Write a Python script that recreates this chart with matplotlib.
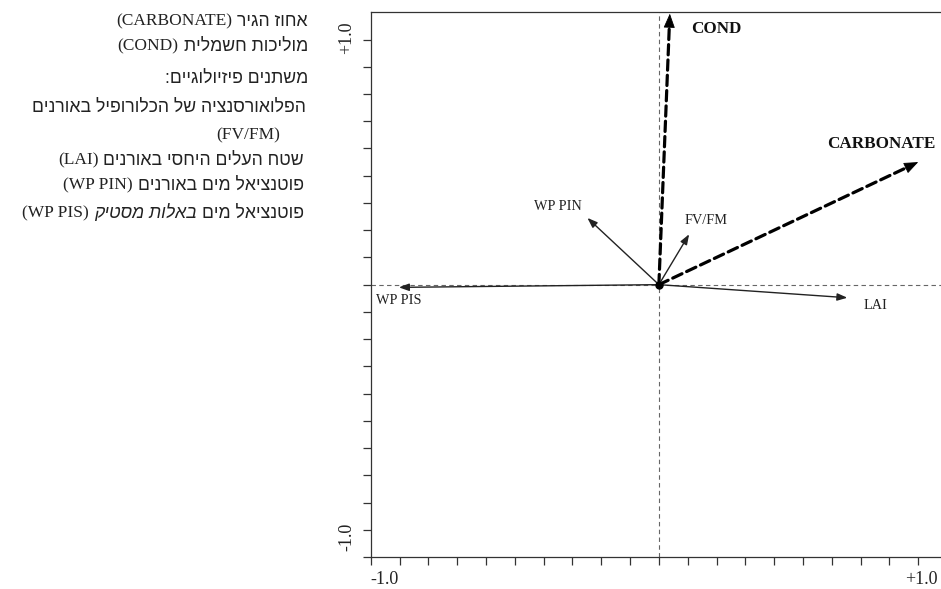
import matplotlib
matplotlib.use("Agg")  # Non-interactive backend
import matplotlib.pyplot as plt
from matplotlib.transforms import IdentityTransform

# Arrow tips in tick units (one tick mark = one unit, origin at the dashed cross)
var_names = ["COND", "CARBONATE", "FV/FM", "LAI", "WP PIN", "WP PIS"]
tip_x = [0.38, 9.0, 1.05, 6.54, -2.48, -9.02]
tip_y = [9.95, 4.5, 1.85, -0.48, 2.45, -0.10]
is_env = [True, True, False, False, False, False]

# label anchor points (centre of each label), same units
label_x = [1.98, 7.71, 1.63, 7.52, -3.52, -9.03]
label_y = [9.37, 5.17, 2.37, -0.78, 2.88, -0.60]

tick_pos = list(range(-10, 10))
end_labels = ["-1.0", "+1.0"]
x_label_pos = [-10, 9.12]
y_label_pos = [-9.27, 9.05]

# Legend lines, logical (right-to-left) order of segments
legend_lines = [
    [("אחוז הגיר", "he"), ("(CARBONATE)", "lat")],
    [("מוליכות חשמלית", "he"), ("(COND)", "lat")],
    [("משתנים פיזיולוגיים:", "he")],
    [("הפלואורסנציה של הכלורופיל באורנים", "he")],
    [("(FV/FM)", "lat")],
    [("שטח העלים היחסי באורנים", "he"), ("(LAI)", "lat")],
    [("פוטנציאל מים באורנים", "he"), ("(WP PIN)", "lat")],
    [("פוטנציאל מים", "he"), ("באלות מסטיק", "he_it"), ("(WP PIS)", "lat")],
]
legend_right = [308, 308, 308, 306, 280, 304, 304, 304]
legend_y = [21.7, 46.7, 78, 107, 135, 160, 185, 213]

W, H = 941, 589
fig = plt.figure(figsize=(W / 100, H / 100), dpi=100)
ax = fig.add_axes([370.7 / W, 32 / H, (W - 370.7) / W, 544.7 / H])
ax.set_xlim(-10, 9.79)
ax.set_ylim(-10, 10)

serif = ["Liberation Serif", "DejaVu Serif"]

# reference cross
ax.axvline(0, color="#666666", lw=0.8, ls=(0, (4, 3)), zorder=1)
ax.axhline(0, color="#666666", lw=0.8, ls=(0, (4, 3)), zorder=1)

for name, x, y, env, lx, ly in zip(var_names, tip_x, tip_y, is_env, label_x, label_y):
    if env:
        # thick dashed shaft, then a solid filled head
        ax.annotate("", xy=(x, y), xytext=(0, 0),
                    arrowprops=dict(arrowstyle="-", lw=2.3, color="black",
                                    linestyle=(0, (3.2, 1.6)), shrinkA=0, shrinkB=8),
                    annotation_clip=False)
        ax.annotate("", xy=(x, y), xytext=(0.94 * x, 0.94 * y),
                    arrowprops=dict(arrowstyle="-|>,head_length=0.9,head_width=0.36",
                                    lw=0.6, color="black", shrinkA=0, shrinkB=0),
                    annotation_clip=False)
        ax.text(lx, ly, name, ha="center", va="center", fontsize=12.3,
                fontweight="bold", family=serif, color="#111111")
    else:
        ax.annotate("", xy=(x, y), xytext=(0, 0),
                    arrowprops=dict(arrowstyle="-|>,head_length=0.6,head_width=0.22",
                                    lw=1.0, color="#222222", shrinkA=0, shrinkB=0),
                    annotation_clip=False)
        ax.text(lx, ly, name, ha="center", va="center", fontsize=10.3,
                family=serif, color="#222222")

ax.plot([0], [0], "o", ms=5, color="black", zorder=5)

# axes styling
for side in ["left", "bottom", "top"]:
    ax.spines[side].set_color("#333333")
    ax.spines[side].set_linewidth(0.9)
ax.spines["right"].set_visible(False)

# tick marks without text; end labels placed by hand next to the axes
ax.set_xticks(tick_pos)
ax.set_xticklabels([""] * len(tick_pos))
ax.set_yticks(tick_pos)
ax.set_yticklabels([""] * len(tick_pos))
ax.tick_params(direction="out", length=6, width=0.9, color="#333333")

for lab, xp, ha in zip(end_labels, x_label_pos, ["left", "center"]):
    ax.annotate(lab, xy=(xp, 0), xycoords=("data", "axes fraction"),
                xytext=(0, -10), textcoords="offset points", ha=ha, va="top",
                family=serif, fontsize=13, color="#222222", annotation_clip=False)
for lab, yp in zip(end_labels, y_label_pos):
    ax.annotate(lab, xy=(0, yp), xycoords=("axes fraction", "data"),
                xytext=(-11, 0), textcoords="offset points", ha="right", va="center",
                rotation=90, family=serif, fontsize=13, color="#222222",
                annotation_clip=False)

# Hebrew legend on the left, laid out right to left
renderer = fig.canvas.get_renderer()
styles = {
    "he": dict(family=["Liberation Sans", "DejaVu Sans"], fontsize=12.7),
    "he_it": dict(family=["Liberation Sans", "DejaVu Sans"], fontsize=12.7, style="italic"),
    "lat": dict(family=serif, fontsize=12.5),
}
for segs, xr, yc in zip(legend_lines, legend_right, legend_y):
    cursor = xr
    for text, kind in segs:
        shown = text[::-1] if kind.startswith("he") else text
        t = fig.text(cursor, H - yc, shown, ha="right", va="center",
                     transform=IdentityTransform(), color="#222222", **styles[kind])
        cursor -= t.get_window_extent(renderer=renderer).width + 5

fig.savefig("out.png", dpi=100)
